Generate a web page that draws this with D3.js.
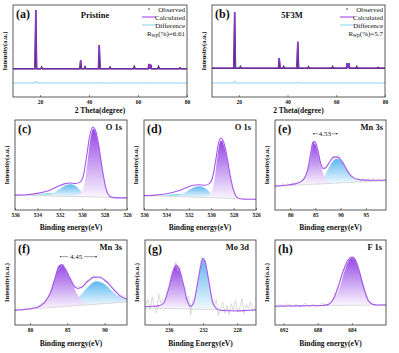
<!DOCTYPE html>
<html>
<head>
<meta charset="utf-8">
<script src="https://cdn.jsdelivr.net/npm/d3@7/dist/d3.min.js"></script>
<style>
body { margin: 0; background: #fff; }
text { font-family: 'Liberation Serif', 'Times New Roman', serif; fill: #111; }
</style>
</head>
<body>
<div id="chart"></div>
<script>
// ---- XRD (2 theta in degree, intensity a.u.) ----
const xrdPeaks     = [18.3, 20.7, 36.6, 38.4, 44.2, 48.6, 58.5, 64.5, 65.2, 68.4, 77.1];
const pristineI    = [97, 7, 18, 7.5, 42, 7, 8, 12, 11, 8, 6];
const f3mI         = [94, 8, 21.5, 8, 47, 7.5, 8, 13.5, 13, 8, 6.5];
const pristineBase = 4.5;
const f3mBase      = 5.5;
const diffBase     = -18;
const pristineDiff = [3, 0, 0.6, 0, 1.5, 0, 0, 0.5, 0, 0, 0];
const f3mDiff      = [3.5, 0, 0.8, 0, 1.8, 0, 0, 0.8, 0, 0, 0];
const xrdTicks     = [20, 40, 60, 80];

// ---- XPS (binding energy eV, intensity a.u.); components are heights above background ----
// (c) O 1s pristine
const envC = [[536,16.5],[535,17],[534,18.5],[533,21.5],[532.2,26],[531.6,29],[531.1,30],[530.6,29.5],[530.2,31],[529.9,38],[529.6,60],[529.3,84],[529.05,92],[528.8,88],[528.5,70],[528.2,45],[527.9,25],[527.6,16],[527.3,14],[527,13.5],[526,13.5]];
const bgC = [[536,16.5],[526,13.5]];
const mainC = [[531,0],[530.4,2],[530,6],[529.7,22],[529.4,52],[529.15,72],[529.0,76],[528.8,72],[528.5,55],[528.2,30],[527.9,10],[527.6,2],[527.3,0]];
const shoulderC = [[533.2,0],[532.6,3],[532,8],[531.5,12],[531.0,13.5],[530.5,11],[530.0,5],[529.6,1],[529.2,0]];
const lowC = [[534.8,0],[534,1.5],[533.2,3],[532.6,3.5],[532,2.5],[531.3,1],[530.8,0]];
// (d) O 1s 5F3M
const envD = [[536,16],[535,16.5],[534,18],[533,21],[532.2,25],[531.6,27.5],[531.1,28],[530.6,27.5],[530.2,29],[529.9,35],[529.6,55],[529.35,74],[529.15,80],[528.9,76],[528.6,60],[528.3,38],[528,22],[527.7,14],[527.4,12.5],[527,12],[526,12]];
const bgD = [[536,16],[526,12]];
const mainD = [[531,0],[530.4,2],[530,6],[529.7,20],[529.45,46],[529.25,61],[529.1,64],[528.9,60],[528.6,45],[528.3,24],[528,9],[527.7,2],[527.4,0]];
const shoulderD = [[533.2,0],[532.6,3],[532,7.5],[531.5,11],[531.0,12.5],[530.5,10],[530.0,4.5],[529.6,1],[529.2,0]];
const lowD = [[534.8,0],[534,1.5],[533.2,2.8],[532.6,3.2],[532,2.3],[531.3,1],[530.8,0]];
// (e) Mn 3s pristine
const envE = [[77,26.5],[79,27.5],[81,29],[82.5,33],[83.5,45],[84.1,64],[84.5,75],[84.9,76],[85.5,66],[86,53],[86.6,46],[87.2,48],[88,55],[88.8,59],[89.5,58.5],[90.5,52],[91.5,42],[92.5,36],[94,33.5],[96,33],[99,33]];
const bgE = [[77,26.5],[99,32.5]];
const pk1E = [[81,0],[82.5,3],[83.5,14],[84.1,34],[84.6,46],[85,44],[85.6,32],[86.2,18],[86.8,8],[87.5,3],[88.5,0]];
const pk2E = [[86,0],[86.8,8],[87.6,17],[88.4,24],[89.2,27],[89.8,26],[90.6,21],[91.5,12],[92.5,5],[94,1],[95,0]];
const rawE = [[77,25.5],[77.5,28.2],[78,26.1],[78.5,29.4],[79,26.3],[79.5,29.8],[80,27],[80.5,30.9],[81,28],[81.5,31.6],[82,30.2],[82.5,34.8],[83,36.9],[83.5,46.7],[84,56.6],[84.5,75.8],[85,74.9],[85.5,67.8],[86,51.5],[86.5,48.1],[87,45.6],[87.5,51.9],[88,53.4],[88.5,60.2],[89,57.8],[89.5,61],[90,54.7],[90.5,53.6],[91,45.5],[91.5,43.8],[92,37.2],[92.5,37.9],[93,33.4],[93.5,36],[94,31.9],[94.5,35.4],[95,31.6],[95.5,34.9],[96,31.4],[96.5,35],[97,32],[97.5,34.6],[98,31.5],[98.5,34.4],[99,32.6]];
// (f) Mn 3s 5F3M
const envF = [[78,17.5],[79.5,18.5],[81,21],[82,27],[82.8,39],[83.4,56],[83.9,69],[84.2,70.5],[84.7,66],[85.3,56],[85.9,46],[86.4,43],[87,45],[87.8,52],[88.5,56],[89.2,56.5],[90,53],[90.8,46],[91.6,38],[92.3,33],[93,30.5]];
const bgF = [[78,17.5],[93,27]];
const pk1F = [[80.5,0],[81.5,3],[82.5,14],[83.3,34],[83.9,49],[84.3,50],[84.9,43],[85.6,28],[86.3,14],[87,5],[88,1],[89,0]];
const pk2F = [[85,0],[86,6],[87,14],[88,23],[88.9,27],[89.8,24],[90.8,16],[91.8,8],[93,3]];
const rawF = [[78,16.2],[78.5,19.6],[79,16.9],[79.5,20.3],[80,17.8],[80.5,21.9],[81,19.4],[81.5,25.2],[82,25.6],[82.5,35.1],[83,39.2],[83.5,61.4],[84,67.3],[84.5,71.2],[85,59.1],[85.5,55.4],[86,43.6],[86.5,45.3],[87,43.1],[87.5,51.2],[88,51.1],[88.5,58.3],[89,54.6],[89.5,57.7],[90,51],[90.5,51.3],[91,42.6],[91.5,41.2],[92,33],[92.5,34.6],[93,29]];
// (g) Mo 3d
const envG = [[238.8,21.5],[238,22],[237.2,22.5],[236.6,26],[236.1,40],[235.6,60],[235.2,70.5],[234.8,66],[234.3,48],[233.9,30],[233.5,22],[233.1,26],[232.7,45],[232.3,68],[232,78.4],[231.7,72],[231.3,50],[230.9,28],[230.4,19],[229.8,17],[228,16.5],[227,17],[225.8,18]];
const bgG = [[238.8,20],[225.8,17]];
const pk1G = [[237.6,0],[237,2],[236.5,8],[236,22],[235.6,40],[235.2,50],[234.8,46],[234.3,28],[233.9,10],[233.5,2],[233,0]];
const pk2G = [[234,0],[233.5,2],[233,8],[232.6,28],[232.3,48],[232,59],[231.7,53],[231.3,30],[230.9,10],[230.4,2],[230,0]];
const rawG = [[238.7,24],[238.45,30],[238.2,18],[237.95,33],[237.7,21],[237.45,14],[237.2,36],[236.95,26],[236.7,31],[236.45,29],[236.2,42],[235.95,47],[235.7,62],[235.45,66],[235.2,74],[234.95,64],[234.7,69],[234.45,50],[234.2,44],[233.95,28],[233.7,34],[233.45,12],[233.2,30],[232.95,33],[232.7,50],[232.45,60],[232.2,80],[231.95,72],[231.7,76],[231.45,55],[231.2,44],[230.95,26],[230.7,22],[230.45,30],[230.2,11],[229.95,20],[229.7,27],[229.45,14],[229.2,23],[228.95,12],[228.7,25],[228.45,18],[228.2,29],[227.95,15],[227.7,21],[227.45,31],[227.2,13],[226.95,24],[226.7,19],[226.45,27],[226.2,16],[225.95,22]];
// (h) F 1s
const envH = [[693,22],[690,22.5],[687.5,23],[686.8,24],[686.2,30],[685.6,45],[685,64],[684.4,77],[684,80],[683.6,76],[683.1,62],[682.6,43],[682.1,29],[681.6,24.5],[681,23.5],[680,23.5]];
const bgH = [[693,22.5],[680,23.5]];
const pkH = [[687.3,0],[686.6,2],[686,8],[685.4,22],[684.8,42],[684.2,55],[683.9,57],[683.5,53],[683,38],[682.5,20],[682,6],[681.5,1],[681,0]];
const rawH = [[693,21],[692.5,24.6],[692,21.8],[691.5,25.1],[691,22.3],[690.5,24],[690,20.9],[689.5,25.8],[689,22.1],[688.5,24.7],[688,21.6],[687.5,26.2],[687,22.9],[686.5,26.4],[686,31.2],[685.5,47.8],[685,62.3],[684.5,76.4],[684,79.1],[683.5,75.2],[683,57.9],[682.5,42.1],[682,27.6],[681.5,25.3],[681,22.4],[680.5,24.5],[680,22.9]];

const ticksO  = [536, 534, 532, 530, 528, 526];
const ticksE  = [80, 85, 90, 95];
const ticksF  = [80, 85, 90];
const ticksG  = [236, 232, 228];
const ticksH  = [692, 688, 684];

const purple = '#a855f0';
const xrdPurple = '#9a35e8';
const diffBlue = '#86d2f2';

const svg = d3.select('#chart').append('svg')
    .attr('width', 399)
    .attr('height', 353);
const defs = svg.append('defs');

const gradient = (id, top, bottom) => {
    const lg = defs.append('linearGradient').attr('id', id)
        .attr('x1', 0).attr('y1', 0).attr('x2', 0).attr('y2', 1);
    lg.append('stop').attr('offset', '0%').attr('stop-color', top);
    lg.append('stop').attr('offset', '100%').attr('stop-color', bottom);
};
gradient('gPurple', '#9446e4', '#faf6fe');
gradient('gBlue', '#5db7f1', '#f2fafe');
gradient('gCyan', '#6cdce5', '#eefcfc');

const marker = defs.append('marker').attr('id', 'arrow')
    .attr('viewBox', '0 0 6 6').attr('refX', 5).attr('refY', 3)
    .attr('markerWidth', 4).attr('markerHeight', 4).attr('orient', 'auto');
marker.append('path').attr('d', 'M0,0.5 L6,3 L0,5.5 Z').attr('fill', '#333');

function frameBits(p, x, ticks, xTitle, titleY) {
    svg.append('g')
        .attr('transform', `translate(0,${p.y1})`)
        .call(d3.axisBottom(x).tickValues(ticks).tickSizeInner(-2).tickSizeOuter(0).tickPadding(3.5))
        .call(g => g.select('.domain').remove())
        .call(g => g.selectAll('.tick line').attr('stroke', '#333').attr('stroke-width', 0.6))
        .call(g => g.selectAll('.tick text').style('font-size', '5.5px').style('font-weight', 'bold'));

    svg.append('rect')
        .attr('x', p.x0).attr('y', p.y0)
        .attr('width', p.x1 - p.x0).attr('height', p.y1 - p.y0)
        .attr('fill', 'none').attr('stroke', '#333').attr('stroke-width', 0.8);

    svg.append('text')
        .attr('x', (p.x0 + p.x1) / 2).attr('y', titleY)
        .attr('text-anchor', 'middle')
        .style('font-size', '7.5px').style('font-weight', 'bold')
        .text(xTitle);

    svg.append('text')
        .attr('transform', `translate(${p.x0 - 6},${(p.y0 + p.y1) / 2}) rotate(-90)`)
        .attr('text-anchor', 'middle')
        .style('font-size', '6.5px').style('font-weight', 'bold')
        .text('Intensity(a.u.)');

    svg.append('text')
        .attr('x', p.x0 + 3).attr('y', p.y0 + 13)
        .style('font-size', '12px').style('font-weight', 'bold')
        .text(p.tag);
}

function drawXrd(p) {
    const x = d3.scaleLinear().domain([9, 80]).range([p.x0, p.x1]);
    const y = d3.scaleLinear().domain([-40, 105]).range([p.y1, p.y0]);
    const hw = 0.35;

    const pattern = [[9, p.base]];
    const diff = [[9, diffBase]];
    xrdPeaks.forEach((pk, i) => {
        pattern.push([pk - hw, p.base], [pk, p.heights[i]], [pk + hw, p.base]);
        diff.push([pk - hw, diffBase], [pk, diffBase + p.diff[i]], [pk + hw, diffBase]);
    });
    pattern.push([80, p.base]);
    diff.push([80, diffBase]);

    const line = d3.line().x(d => x(d[0])).y(d => y(d[1]));

    svg.append('path').datum(diff).attr('d', line)
        .attr('fill', 'none').attr('stroke', diffBlue).attr('stroke-width', 1);
    svg.append('path').datum(pattern).attr('d', line)
        .attr('fill', 'none').attr('stroke', '#2a1a3a').attr('stroke-width', 1.5);
    svg.append('path').datum(pattern).attr('d', line)
        .attr('fill', 'none').attr('stroke', xrdPurple).attr('stroke-width', 0.9);

    frameBits(p, x, xrdTicks, '2 Theta(degree)', 113);

    svg.append('text')
        .attr('x', p.titleX).attr('y', 18)
        .attr('text-anchor', 'middle')
        .style('font-size', '8.5px').style('font-weight', 'bold')
        .text(p.title);

    // legend
    const lx = p.x1 - 45, tx = p.x1 - 2;
    svg.append('circle').attr('cx', lx + 7).attr('cy', 9).attr('r', 0.8).attr('fill', '#222');
    svg.append('line').attr('x1', lx).attr('x2', lx + 14).attr('y1', 17).attr('y2', 17)
        .attr('stroke', xrdPurple).attr('stroke-width', 1);
    svg.append('line').attr('x1', lx).attr('x2', lx + 14).attr('y1', 25).attr('y2', 25)
        .attr('stroke', diffBlue).attr('stroke-width', 1);
    [['Observed', 11.5], ['Calculated', 19.5], ['Difference', 27.5]].forEach(([t, yy]) => {
        svg.append('text').attr('x', tx).attr('y', yy).attr('text-anchor', 'end')
            .style('font-size', '7px').text(t);
    });
    const r = svg.append('text').attr('x', tx).attr('y', 35.5).attr('text-anchor', 'end')
        .style('font-size', '7px');
    r.append('tspan').text('R');
    r.append('tspan').attr('dy', 1.8).style('font-size', '5.5px').text('wp');
    r.append('tspan').attr('dy', -1.8).text(`(%)=${p.rwp}`);
}

function drawXps(p) {
    const x = d3.scaleLinear().domain(p.dom).range([p.x0, p.x1]);
    const y = d3.scaleLinear().domain([0, 100]).range([p.y1, p.y0]);
    const bgAt = e => {
        const [a, b] = p.bg;
        return a[1] + (e - a[0]) * (b[1] - a[1]) / (b[0] - a[0]);
    };

    defs.append('clipPath').attr('id', `clip-${p.tag}`)
        .append('rect').attr('x', p.x0).attr('y', p.y0)
        .attr('width', p.x1 - p.x0).attr('height', p.y1 - p.y0);
    const g = svg.append('g').attr('clip-path', `url(#clip-${p.tag})`);

    const area = d3.area().curve(d3.curveMonotoneX)
        .x(d => x(d[0]))
        .y0(d => y(bgAt(d[0])))
        .y1(d => y(bgAt(d[0]) + d[1]));
    p.comps.forEach(c => {
        g.append('path').datum(c[0]).attr('d', area).attr('fill', `url(#${c[1]})`);
    });

    const line = d3.line().x(d => x(d[0])).y(d => y(d[1]));
    g.append('path').datum(p.bg).attr('d', line)
        .attr('fill', 'none').attr('stroke', '#cfcfcf').attr('stroke-width', 0.7);
    if (p.raw) {
        g.append('path').datum(p.raw).attr('d', line)
            .attr('fill', 'none').attr('stroke', '#c2c2c2').attr('stroke-width', 0.6);
    }
    g.append('path').datum(p.env).attr('d', line.curve(d3.curveMonotoneX))
        .attr('fill', 'none').attr('stroke', purple).attr('stroke-width', 1.1);

    if (p.split) {
        const s = p.split;
        svg.append('text').attr('x', x(s.mid)).attr('y', s.y)
            .attr('text-anchor', 'middle').style('font-size', '7px').text(s.text);
        svg.append('line').attr('x1', x(s.mid) - s.gap).attr('x2', x(s.from)).attr('y1', s.y - 2.3).attr('y2', s.y - 2.3)
            .attr('stroke', '#333').attr('stroke-width', 0.5).attr('marker-end', 'url(#arrow)');
        svg.append('line').attr('x1', x(s.mid) + s.gap).attr('x2', x(s.to)).attr('y1', s.y - 2.3).attr('y2', s.y - 2.3)
            .attr('stroke', '#333').attr('stroke-width', 0.5).attr('marker-end', 'url(#arrow)');
    }

    frameBits(p, x, p.ticks, p.xTitle, p.titleY);

    svg.append('text')
        .attr('x', p.labelX).attr('y', p.y0 + 10)
        .attr('text-anchor', 'end')
        .style('font-size', '8.5px').style('font-weight', 'bold')
        .text(p.title);
}

drawXrd({tag: '(a)', x0: 13, x1: 187, y0: 5, y1: 97, heights: pristineI, base: pristineBase,
    diff: pristineDiff, title: 'Pristine', titleX: 95, rwp: '6.61'});
drawXrd({tag: '(b)', x0: 212, x1: 385, y0: 5, y1: 97, heights: f3mI, base: f3mBase,
    diff: f3mDiff, title: '5F3M', titleX: 292, rwp: '5.7'});

drawXps({tag: '(c)', x0: 15, x1: 127, y0: 120, y1: 210, dom: [536, 526], ticks: ticksO,
    env: envC, bg: bgC, comps: [[lowC, 'gCyan'], [shoulderC, 'gBlue'], [mainC, 'gPurple']],
    title: 'O 1s', labelX: 122, xTitle: 'Binding energy(eV)', titleY: 230});
drawXps({tag: '(d)', x0: 144, x1: 256, y0: 120, y1: 210, dom: [536, 526], ticks: ticksO,
    env: envD, bg: bgD, comps: [[lowD, 'gCyan'], [shoulderD, 'gBlue'], [mainD, 'gPurple']],
    title: 'O 1s', labelX: 251, xTitle: 'Binding energy(eV)', titleY: 230});
drawXps({tag: '(e)', x0: 275, x1: 386, y0: 120, y1: 210, dom: [77, 99], ticks: ticksE,
    env: envE, bg: bgE, raw: rawE, comps: [[pk2E, 'gBlue'], [pk1E, 'gPurple']],
    title: 'Mn 3s', labelX: 383, xTitle: 'Binding energy(eV)', titleY: 230,
    split: {text: '4.53', mid: 86.9, from: 84.5, to: 89.4, gap: 7, y: 136}});
drawXps({tag: '(f)', x0: 15, x1: 127, y0: 240, y1: 325, dom: [78, 93], ticks: ticksF,
    env: envF, bg: bgF, raw: rawF, comps: [[pk2F, 'gBlue'], [pk1F, 'gPurple']],
    title: 'Mn 3s', labelX: 122, xTitle: 'Binding energy(eV)', titleY: 346,
    split: {text: '4.45', mid: 86.2, from: 84.0, to: 89.0, gap: 8, y: 259}});
drawXps({tag: '(g)', x0: 145, x1: 256, y0: 240, y1: 325, dom: [238.8, 225.8], ticks: ticksG,
    env: envG, bg: bgG, raw: rawG, comps: [[pk1G, 'gPurple'], [pk2G, 'gBlue']],
    title: 'Mo 3d', labelX: 249, xTitle: 'Binding Energy(eV)', titleY: 346});
drawXps({tag: '(h)', x0: 275, x1: 386, y0: 240, y1: 325, dom: [693, 680], ticks: ticksH,
    env: envH, bg: bgH, raw: rawH, comps: [[pkH, 'gPurple']],
    title: 'F 1s', labelX: 382, xTitle: 'Binding energy(eV)', titleY: 346});
</script>
</body>
</html>
